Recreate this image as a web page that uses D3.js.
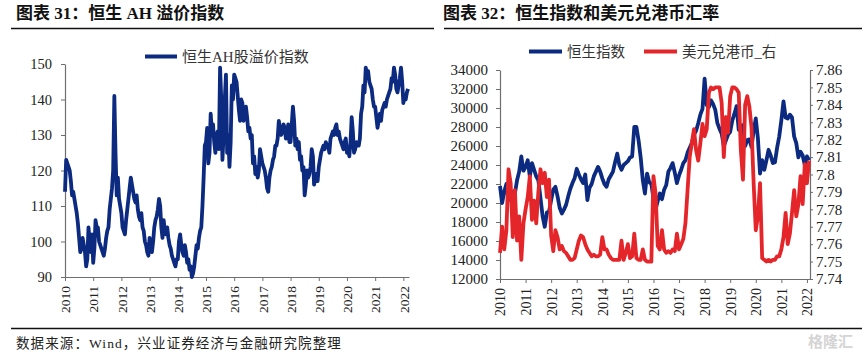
<!DOCTYPE html>
<html><head><meta charset="utf-8">
<script src="https://cdn.jsdelivr.net/npm/d3@7"></script>
<style>
body{margin:0;background:#fff;}
svg{display:block;}
</style>
</head><body>
<svg id="c" width="868" height="355"></svg>
<script>
// ---------- data ----------
const startYear = 2010;
const yearTicks = [2010,2011,2012,2013,2014,2015,2016,2017,2018,2019,2020,2021,2022];

// Hang Seng AH premium index (twice a month, from Jan 2010)
const ahPremium = [
  114,123, 122,121, 120,117, 113,114, 112,110, 108,105, 101, 97,  98,101,  99, 97,  93, 95, 104,100,  97,102, // 2010
   94, 98, 106,104, 104,100,  99, 98,  97, 96,  98,101, 103,104, 109,112, 115,120, 141,125, 113,118, 112,110, // 2011
  108,104, 103,102, 106,109, 112,115, 118,116, 114,112, 111,113, 109,107, 106,108, 104,103, 100, 99,  97, 96, // 2012
  101, 98,  97,100, 104,106, 107,109, 112,110, 104,101, 106,103, 102,104, 101, 99,  98, 96,  95, 94,  93, 95, // 2013
   95,100, 102, 99,  97, 96,  99, 97,  94, 95,  92, 93,  90, 91,  93, 96,  99, 98, 101,103, 104,110, 118,127, // 2014
  128,132, 122,125, 136,131, 133,128, 125,130, 131,126, 149,140, 123,130, 140,147, 125,130, 121,128, 144,140, // 2015
  147,146, 145,141, 137,134, 140,139, 134,136, 138,135, 131,132, 129,130, 122,124, 119,121, 118,120, 126,124, // 2016
  122,121, 120,118, 115,114, 118,120, 121,123, 124,127, 127,129, 134,132, 130,131, 133,132, 129,130, 133,128, // 2017
  128,133, 138,134, 127,129, 126,128, 123,124, 120,121, 113,116, 120,118, 119,121, 126,124, 116,118, 119,117, // 2018
  121,123, 125,126, 127,126, 128,127, 127,125, 129,130, 131,130, 132,133, 130,131, 129,128, 127,126, 128,129, // 2019
  125,126, 124,128, 135,131, 125,126, 128,127, 127,129, 136,138, 144,142, 149,147, 148,145, 144,143, 140,138, // 2020
  138,135, 132,134, 136,134, 137,138, 139,138, 140,141, 142,143, 146,145, 149,147, 143,142, 144,146, 149,145, // 2021
  139,141, 140,142, 143                                                                                       // 2022
];
const ahTicks = [90,100,110,120,130,140,150];

// Hang Seng Index (left axis, monthly from Jan 2010)
const hsiIndex = [
  21800,20000,21200,22000,20300,20700,21200,21000,22400,23300,24900,23400, // 2010
  23800,24500,22800,24200,23500,22800,22400,20500,18600,17500,19000,19100, // 2011
  20300,21400,21700,20700,19500,18900,19300,19800,20700,21500,22100,22600, // 2012
  23600,23000,22500,22100,23000,20300,21600,22000,22800,23300,23800,23300, // 2013
  22600,22000,21700,22500,22900,23300,24300,25200,24000,23500,24000,24200, // 2014
  24400,24800,24900,28000,28000,26600,24800,22400,21000,23100,22200,22000, // 2015
  20500,19300,20200,21000,20400,21400,21900,23300,23700,24200,23200,22100, // 2016
  22900,23500,24200,24500,25300,25800,26300,27200,27600,28400,29300,29900, // 2017
  33100,30300,30100,30800,30400,29800,28400,27800,27300,26000,26600,27200, // 2018
  27500,28700,29400,30200,27700,28000,28200,26000,26600,26700,25900,27600, // 2019
  28900,26800,23100,24500,23500,24500,25600,25000,24200,24300,25800,27000, // 2020
  28700,30700,29000,28900,29300,29000,27000,26300,24800,25400,25000,24000, // 2021
  24900,24500                                                              // 2022
];
const hsiTicks = [12000,14000,16000,18000,20000,22000,24000,26000,28000,30000,32000,34000];

// USD/HKD (right axis, monthly from Jan 2010)
const usdHkd = [
  7.755,7.770,7.757,7.768,7.803,7.795,7.764,7.791,7.762,7.776,7.751,7.772, // 2010
  7.780,7.787,7.799,7.774,7.785,7.772,7.790,7.803,7.795,7.801,7.787,7.797, // 2011
  7.765,7.756,7.768,7.764,7.757,7.759,7.756,7.755,7.753,7.751,7.751,7.752, // 2012
  7.757,7.762,7.765,7.764,7.760,7.757,7.755,7.753,7.754,7.753,7.753,7.754, // 2013
  7.764,7.757,7.757,7.754,7.752,7.751,7.751,7.751,7.751,7.762,7.751,7.755, // 2014
  7.760,7.752,7.753,7.766,7.752,7.751,7.751,7.757,7.751,7.750,7.750,7.750, // 2015
  7.799,7.789,7.759,7.757,7.768,7.757,7.755,7.756,7.755,7.757,7.756,7.766, // 2016
  7.757,7.760,7.763,7.772,7.791,7.810,7.818,7.826,7.814,7.808,7.818,7.829, // 2017
  7.822,7.826,7.847,7.850,7.849,7.850,7.850,7.850,7.841,7.810,7.833,7.824, // 2018
  7.845,7.850,7.850,7.849,7.847,7.814,7.797,7.840,7.845,7.839,7.827,7.795, // 2019
  7.768,7.776,7.795,7.752,7.751,7.750,7.751,7.750,7.751,7.751,7.753,7.753, // 2020
  7.757,7.764,7.778,7.760,7.766,7.778,7.791,7.776,7.783,7.799,7.783,7.806, // 2021
  7.795,7.808                                                              // 2022
];
const fxTicks = [7.74,7.75,7.76,7.77,7.78,7.79,7.80,7.81,7.82,7.83,7.84,7.85,7.86];

const leftTitle = "图表 31：恒生 AH 溢价指数";
const rightTitle = "图表 32：恒生指数和美元兑港币汇率";
const ahLabel = "恒生AH股溢价指数";
const hsiLabel = "恒生指数";
const fxLabel = "美元兑港币_右";
const sourceText = "数据来源：Wind，兴业证券经济与金融研究院整理";

// ---------- drawing ----------
const BLUE = "#0b2a80", RED = "#e4262b", AXIS = "#6e6e6e";
const SERIF = "'Liberation Serif','Times New Roman','Noto Sans CJK SC',serif";
const CJK = "'Liberation Serif','Noto Sans CJK SC',sans-serif";
const svg = d3.select("#c");
const tMonthly = i => startYear + i / 12;
const tHalf = i => startYear + i / 24;

// titles and rules
svg.append("text").attr("x",16).attr("y",19).text(leftTitle)
  .attr("font-family",CJK).attr("font-weight","bold").attr("font-size",17).attr("fill","#111");
svg.append("text").attr("x",443).attr("y",19).text(rightTitle)
  .attr("font-family",CJK).attr("font-weight","bold").attr("font-size",17).attr("fill","#111");
svg.append("line").attr("x1",11).attr("x2",434).attr("y1",28.5).attr("y2",28.5).attr("stroke","#111").attr("stroke-width",1.3);
svg.append("line").attr("x1",444).attr("x2",862).attr("y1",28.5).attr("y2",28.5).attr("stroke","#111").attr("stroke-width",1.3);
svg.append("line").attr("x1",11).attr("x2",862).attr("y1",328.5).attr("y2",328.5).attr("stroke","#111").attr("stroke-width",1.3);
svg.append("text").attr("x",16).attr("y",348).text(sourceText)
  .attr("font-family",CJK).attr("font-size",13.5).attr("letter-spacing",1.1).attr("fill","#222");
svg.append("text").attr("x",808).attr("y",347).text("格隆汇")
  .attr("font-family","'Noto Sans CJK SC',sans-serif").attr("font-weight","bold").attr("font-size",15).attr("fill","#d4d4d4");

function styleAxis(g, fs){
  g.select(".domain").attr("stroke",AXIS).attr("stroke-width",1.2);
  g.selectAll(".tick line").attr("stroke",AXIS);
  g.selectAll(".tick text").attr("font-family",SERIF).attr("font-size",fs).attr("fill","#222");
}
function yearAxis(g, x, y0, fs){
  const ax = g.append("g").attr("transform",`translate(0,${y0})`)
    .call(d3.axisBottom(x).tickValues(yearTicks).tickFormat(d3.format("d")).tickSize(4).tickSizeOuter(0));
  styleAxis(ax, fs);
  ax.selectAll(".tick text").attr("transform","rotate(-90)").attr("text-anchor","end")
    .attr("x",-9).attr("y",0).attr("dy","0.35em");
}

// ----- left chart -----
{
  const g = svg.append("g");
  const x = d3.scaleLinear().domain([2010, 2022.2]).range([65, 409]);
  const y = d3.scaleLinear().domain([90, 150]).range([277, 64]);
  const ax = g.append("g").attr("transform","translate(65,0)")
    .call(d3.axisLeft(y).tickValues(ahTicks).tickSize(4).tickPadding(9).tickSizeOuter(0));
  styleAxis(ax, 14.5);
  yearAxis(g, x, 277, 13.5);
  g.append("path").datum(ahPremium)
    .attr("d", d3.line().x((d,i)=>x(tHalf(i))).y(d=>y(d)))
    .attr("fill","none").attr("stroke",BLUE).attr("stroke-width",3.8).attr("stroke-linejoin","round");
  g.append("line").attr("x1",145).attr("x2",177).attr("y1",56.5).attr("y2",56.5).attr("stroke",BLUE).attr("stroke-width",4);
  g.append("text").attr("x",182).attr("y",62).text(ahLabel)
    .attr("font-family",CJK).attr("font-size",15).attr("fill","#333");
}

// ----- right chart -----
{
  const g = svg.append("g");
  const x = d3.scaleLinear().domain([2010, 2022.12]).range([500, 810]);
  const yL = d3.scaleLinear().domain([12000, 34000]).range([279, 70]);
  const yR = d3.scaleLinear().domain([7.74, 7.86]).range([279, 70]);
  const axL = g.append("g").attr("transform","translate(500,0)")
    .call(d3.axisLeft(yL).tickValues(hsiTicks).tickFormat(d3.format("d")).tickSize(4).tickPadding(8).tickSizeOuter(0));
  styleAxis(axL, 15);
  const axR = g.append("g").attr("transform","translate(810,0)")
    .call(d3.axisRight(yR).tickValues(fxTicks).tickFormat(d=>String(+d.toFixed(2))).tickSize(3).tickPadding(3).tickSizeOuter(0));
  styleAxis(axR, 15);
  yearAxis(g, x, 279, 14);
  g.append("path").datum(hsiIndex)
    .attr("d", d3.line().x((d,i)=>x(tMonthly(i))).y(d=>yL(d)))
    .attr("fill","none").attr("stroke",BLUE).attr("stroke-width",3.8).attr("stroke-linejoin","round");
  g.append("path").datum(usdHkd)
    .attr("d", d3.line().x((d,i)=>x(tMonthly(i))).y(d=>yR(d)))
    .attr("fill","none").attr("stroke",RED).attr("stroke-width",3.8).attr("stroke-linejoin","round");
  g.append("line").attr("x1",529).attr("x2",562).attr("y1",51.5).attr("y2",51.5).attr("stroke",BLUE).attr("stroke-width",4);
  g.append("text").attr("x",567).attr("y",57).text(hsiLabel)
    .attr("font-family",CJK).attr("font-size",14.5).attr("fill","#333");
  g.append("line").attr("x1",644).attr("x2",677).attr("y1",51.5).attr("y2",51.5).attr("stroke",RED).attr("stroke-width",4);
  g.append("text").attr("x",682).attr("y",57).text(fxLabel)
    .attr("font-family",CJK).attr("font-size",14.5).attr("fill","#333");
}
</script>
</body></html>
